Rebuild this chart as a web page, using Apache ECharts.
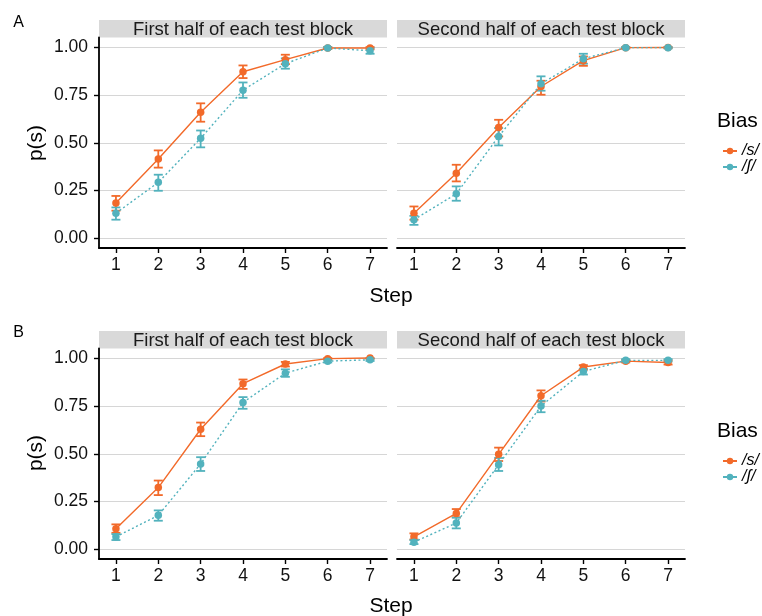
<!DOCTYPE html>
<html><head><meta charset="utf-8">
<script src="https://cdn.jsdelivr.net/npm/echarts@6/dist/echarts.min.js"></script>
<style>html,body{margin:0;padding:0;background:#fff}#c{width:762px;height:616px}</style>
</head><body><div id="c"></div><script>
const steps = [1, 2, 3, 4, 5, 6, 7];
const yTicks = [0, 0.25, 0.5, 0.75, 1];
const panelTitles = ['First half of each test block', 'Second half of each test block'];
const biasLabels = ['/s/', '/ʃ/'];
const rowTags = ['A', 'B'];

// Row A, first half
const aFirstS   = [0.185, 0.415, 0.659, 0.871, 0.934, 0.995, 0.995];
const aFirstSLo = [0.145, 0.370, 0.610, 0.838, 0.911, 0.990, 0.988];
const aFirstSHi = [0.222, 0.460, 0.706, 0.904, 0.960, 1.000, 1.000];
const aFirstSh   = [0.132, 0.293, 0.523, 0.775, 0.913, 0.995, 0.981];
const aFirstShLo = [0.098, 0.249, 0.476, 0.735, 0.887, 0.990, 0.965];
const aFirstShHi = [0.162, 0.333, 0.564, 0.815, 0.941, 1.000, 0.995];
// Row A, second half
const aSecondS   = [0.132, 0.341, 0.580, 0.794, 0.929, 0.997, 0.998];
const aSecondSLo = [0.098, 0.298, 0.533, 0.751, 0.902, 0.993, 0.995];
const aSecondSHi = [0.167, 0.385, 0.620, 0.824, 0.951, 1.000, 1.000];
const aSecondSh   = [0.098, 0.233, 0.533, 0.808, 0.939, 0.997, 0.997];
const aSecondShLo = [0.071, 0.197, 0.486, 0.772, 0.913, 0.993, 0.993];
const aSecondShHi = [0.118, 0.272, 0.577, 0.847, 0.965, 1.000, 1.000];
// Row B, first half
const bFirstS   = [0.108, 0.323, 0.628, 0.866, 0.969, 0.997, 1.000];
const bFirstSLo = [0.087, 0.284, 0.592, 0.839, 0.956, 0.993, 0.996];
const bFirstSHi = [0.131, 0.360, 0.663, 0.888, 0.980, 1.000, 1.000];
const bFirstSh   = [0.066, 0.178, 0.447, 0.768, 0.921, 0.984, 0.991];
const bFirstShLo = [0.049, 0.150, 0.410, 0.735, 0.902, 0.977, 0.985];
const bFirstShHi = [0.080, 0.204, 0.482, 0.796, 0.941, 0.990, 0.997];
// Row B, second half
const bSecondS   = [0.066, 0.188, 0.497, 0.803, 0.953, 0.984, 0.977];
const bSecondSLo = [0.052, 0.168, 0.462, 0.773, 0.939, 0.977, 0.966];
const bSecondSHi = [0.084, 0.211, 0.532, 0.831, 0.963, 0.990, 0.988];
const bSecondSh   = [0.038, 0.138, 0.443, 0.749, 0.930, 0.988, 0.988];
const bSecondShLo = [0.028, 0.110, 0.410, 0.717, 0.914, 0.982, 0.982];
const bSecondShHi = [0.049, 0.166, 0.478, 0.777, 0.944, 0.994, 0.994];

const panels = [
  { s: [aFirstS, aFirstSLo, aFirstSHi], sh: [aFirstSh, aFirstShLo, aFirstShHi] },
  { s: [aSecondS, aSecondSLo, aSecondSHi], sh: [aSecondSh, aSecondShLo, aSecondShHi] },
  { s: [bFirstS, bFirstSLo, bFirstSHi], sh: [bFirstSh, bFirstShLo, bFirstShHi] },
  { s: [bSecondS, bSecondSLo, bSecondSHi], sh: [bSecondSh, bSecondShLo, bSecondShHi] }
];

const FONT = '"Liberation Sans", Arial, Helvetica, sans-serif';
const ORANGE = '#F26A2A';
const TEAL = '#52B2BD';
const colors = [ORANGE, TEAL];

const gridLefts = [99, 397];
const gridTops = [37.5, 348.5];
const GW = 288, GH = 210.5;

const grids = [], xAxes = [], yAxes = [], series = [], graphics = [], legends = [];

function errBar(color) {
  return function (params, api) {
    const x = api.value(0);
    const p1 = api.coord([x, api.value(1)]);
    const p2 = api.coord([x, api.value(2)]);
    const w = 4.5;
    const st = { stroke: color, lineWidth: 1.8 };
    return { type: 'group', children: [
      { type: 'line', shape: { x1: p1[0], y1: p1[1], x2: p2[0], y2: p2[1] }, style: st },
      { type: 'line', shape: { x1: p1[0] - w, y1: p1[1], x2: p1[0] + w, y2: p1[1] }, style: st },
      { type: 'line', shape: { x1: p2[0] - w, y1: p2[1], x2: p2[0] + w, y2: p2[1] }, style: st }
    ]};
  };
}

for (let r = 0; r < 2; r++) {
  for (let c = 0; c < 2; c++) {
    const gi = r * 2 + c;
    grids.push({ left: gridLefts[c], top: gridTops[r], width: GW, height: GH });
    xAxes.push({
      type: 'value', gridIndex: gi, min: 0.6, max: 7.4,
      axisLine: { show: true, onZero: false, lineStyle: { color: '#000', width: 1.8 } },
      axisTick: { show: true, length: 5, customValues: steps, lineStyle: { color: '#000', width: 1.4 } },
      axisLabel: { customValues: steps, color: '#111', fontSize: 17.5, fontFamily: FONT, margin: 8 },
      splitLine: { show: false }
    });
    yAxes.push({
      type: 'value', gridIndex: gi, min: -0.05, max: 1.05,
      axisLine: { show: c === 0, onZero: false, lineStyle: { color: '#000', width: 1.8 } },
      axisTick: { show: c === 0, length: 5, customValues: yTicks, lineStyle: { color: '#000', width: 1.4 } },
      axisLabel: { show: c === 0, customValues: yTicks, color: '#111', fontSize: 17.5, fontFamily: FONT, margin: 11,
        formatter: v => v.toFixed(2) },
      splitLine: { show: true, lineStyle: { color: '#d6d6d6', width: 1 } }
    });
    const p = panels[gi];
    [p.s, p.sh].forEach((arr, k) => {
      series.push({
        type: 'custom', name: biasLabels[k] + ' error', xAxisIndex: gi, yAxisIndex: gi,
        renderItem: errBar(colors[k]), silent: true,
        data: steps.map((s, i) => [s, arr[1][i], arr[2][i]]),
        encode: { x: 0, y: [1, 2] }
      });
      series.push({
        type: 'line', name: biasLabels[k], xAxisIndex: gi, yAxisIndex: gi,
        data: steps.map((s, i) => [s, arr[0][i]]),
        symbol: 'circle', symbolSize: 7.5, showSymbol: true,
        itemStyle: { color: colors[k] },
        lineStyle: { color: colors[k], width: 1.4, type: k === 0 ? 'solid' : [2, 2.5] },
        silent: true, animation: false
      });
    });
    // strip
    graphics.push({ type: 'rect', left: gridLefts[c], top: gridTops[r] - 17.5,
      shape: { width: GW, height: 17.5 }, style: { fill: '#d9d9d9' } });
    graphics.push({ type: 'text', x: gridLefts[c] + GW / 2, y: gridTops[r] - 8,
      style: { text: panelTitles[c], fill: '#1a1a1a', font: '18.5px ' + FONT, align: 'center', verticalAlign: 'middle' } });
  }
  const off = r * 310;
  graphics.push({ type: 'text', x: 18.5, y: 22.5 + off,
    style: { text: rowTags[r], fill: '#000', font: '16px ' + FONT, align: 'center', verticalAlign: 'middle' } });
  graphics.push({ type: 'text', x: 36, y: 143 + off, rotation: Math.PI / 2,
    style: { text: 'p(s)', fill: '#000', font: '21px ' + FONT, align: 'center', verticalAlign: 'middle' } });
  graphics.push({ type: 'text', x: 391, y: 296 + off,
    style: { text: 'Step', fill: '#000', font: '21px ' + FONT, align: 'center', verticalAlign: 'middle' } });
  graphics.push({ type: 'text', x: 717, y: 121.7 + off,
    style: { text: 'Bias', fill: '#000', font: '21px ' + FONT, align: 'left', verticalAlign: 'middle' } });
  legends.push({
    data: biasLabels.map(n => ({ name: n, lineStyle: { type: 'solid', width: 2 } })),
    orient: 'vertical', left: 722, top: 143 + off, padding: 0,
    itemWidth: 14, itemHeight: 8, itemGap: 0, selectedMode: false,
    textStyle: { fontSize: 16, fontStyle: 'italic', fontFamily: FONT, color: '#000', lineHeight: 15 }
  });
}

const chart = echarts.init(document.getElementById('c'), null, { renderer: 'canvas' });
chart.setOption({
  animation: false,
  backgroundColor: '#fff',
  grid: grids, xAxis: xAxes, yAxis: yAxes, series: series,
  legend: legends, graphic: graphics
});
</script></body></html>
